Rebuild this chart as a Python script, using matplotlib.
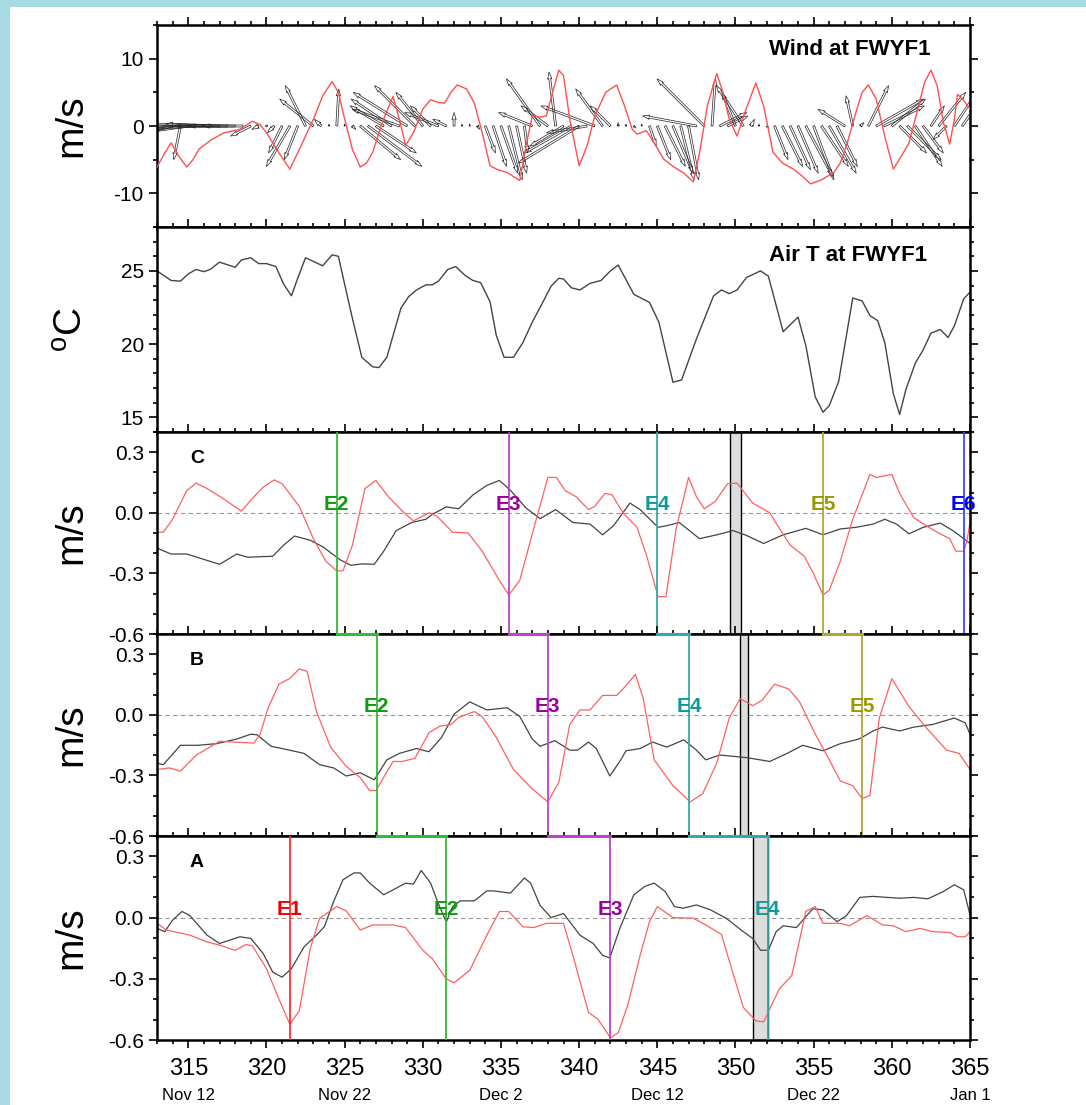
import numpy as np
import matplotlib
matplotlib.use("Agg")
import matplotlib.pyplot as plt
import matplotlib.transforms as mtransforms
from matplotlib.patches import Rectangle
from matplotlib.lines import Line2D
from matplotlib.ticker import MultipleLocator, FixedLocator, FormatStrFormatter

plt.rcParams['font.family'] = ['Liberation Sans', 'DejaVu Sans']
plt.rcParams['mathtext.fontset'] = 'custom'
plt.rcParams['mathtext.rm'] = 'Liberation Sans'
plt.rcParams['axes.unicode_minus'] = False

# ---- wind sticks (half-day steps from day 313) ----
stick_u = [-3, -5, -6, -1, -7, -8, -9, -9, -8, -8, -7, -6, -3, -1, 0, -1,
           -2, -3.5, -2, -3, -5, -1, 0, 0.3, 0, 0.5, 6, 8, 6, -5, -6, -7,
           -8, -6, -4, -3, -5, -2, 0, 0, 0, 0.3, 1.5, 2, 2.5, 2, 1.5, 0.5,
           -5, -5, -4, -1, -5, -7, -9, -6, -8, -4, -3, 0, 0, 0.3, 0, 1,
           2, 3, 3, 2, 1.5, -8, -7, 0.5, 4, 3, -2, -4, 0.5, 0, 0.3, 2,
           3, 3, 3, 4, 3, 4, 4, 3, -4, -1, 0.5, 3, 7, 6, 5, 4,
           5, 4, 3, 2, 4, -2, 4, 5]
stick_v = [-3, -2.5, -1.5, -5, -1, -0.5, 0, 0.3, 0.3, 0, 0, 0, -1.5, -0.5, 0, -1,
           -4, -6, -5, 6, 4, 1, 0.3, 5.5, 0.3, -0.5, -5, -6, -4, 3, 4, 2.5,
           5, 6, 5, 3, 2, 1, 2, 0.3, 0.3, -0.5, -4, -6, -7, -8, -7, -4,
           2, 7, 3, 8, -3, -4, -5.5, -1, 3, 5.5, 3, 0.5, 0.3, -0.3, 0.3, -3,
           -5, -6, -7, -8, -8, 1.5, 7, 7, 2, 1.5, 5, 6, 1, 0.3, -0.3, -5,
           -6, -6.5, -7, -7.5, -8, -6, -7, -6, 2.5, 4.5, 0.5, 6, 4, 3, 4, -4,
           -5, -6, -4, 3, 5, -2, 6, 7]
stick_t = 313.0 + 0.5 * np.arange(len(stick_u))

wind_t = [313.0, 313.5, 313.9, 314.4, 314.9, 315.3, 315.7, 316.5, 317.3, 318.3, 319.1, 319.6,
          320.0, 320.8, 321.5, 322.2, 323.0, 323.6, 324.2, 324.6, 324.9, 325.5, 326.0, 326.4,
          326.8, 327.4, 328.1, 328.5, 328.9, 329.4, 330.0, 330.5, 331.0, 331.4, 331.8, 332.2,
          332.8, 333.3, 333.8, 334.3, 334.8, 335.4, 335.8, 336.2, 336.6, 337.0, 337.5, 337.9,
          338.3, 338.7, 339.0, 339.4, 340.0, 340.5, 341.0, 341.7, 342.4, 342.9, 343.4, 343.7,
          344.3, 344.8, 345.4, 346.0, 346.7, 347.3, 347.7, 348.2, 348.8, 349.2, 349.6, 350.1,
          350.6, 351.3, 351.8, 352.4, 353.0, 353.7, 354.3, 354.8, 355.5, 356.3, 356.7, 357.1,
          357.7, 358.1, 358.5, 359.0, 359.6, 360.1, 360.6, 361.1, 361.6, 362.1, 362.5, 362.9,
          363.3, 363.7, 364.0, 364.2, 364.6, 365.0]
wind_v = [-6.1, -4, -2.5, -4.5, -6.1, -5, -3.4, -2, -1, -0.5, 0.7, 0.2,
          -1, -4, -6.4, -3, 1, 4.5, 6.6, 5, 2, -3.5, -6.1, -5.5,
          -3.9, 0.5, 4.4, 1, -2.9, -1, 2.5, 3.9, 3.5, 3.4, 5, 6.1,
          5.5, 3.4, -1, -5.9, -6.5, -6.9, -7.5, -8.1, -3, 1.5, 1.3, 1.5,
          5, 8.3, 7.5, 1, -5.9, -3, 1.5, 5, 6.1, 3, -0.5, -1.2,
          -0.7, -2.5, -4.9, -6, -7, -8.3, -4, 3, 7.8, 5, 1, -1.5,
          2, 6.4, 3, -3.9, -5.5, -6.4, -7.5, -8.6, -8, -6.9, -5.5, -2.9,
          2, 5, 6.1, 4, -2, -6.4, -4.5, -2.5, 2, 6.5, 8.3, 6,
          0.5, -2.7, 1, 4.7, 3.8, 2.5]

# ---- air temperature ----
airt_t = [313.0, 313.9, 314.5, 315.0, 315.5, 316.0, 316.4, 317.0, 318.0, 318.4, 319.0, 319.5,
          320.0, 320.6, 321.1, 321.6, 322.0, 322.5, 323.1, 323.6, 324.2, 324.6, 325.0, 325.5,
          326.1, 326.8, 327.2, 327.7, 328.6, 329.1, 329.6, 330.2, 330.6, 331.0, 331.6, 332.1,
          332.7, 333.2, 333.7, 334.3, 334.7, 335.2, 335.8, 336.4, 337.0, 337.6, 338.2, 338.7,
          339.0, 339.5, 340.05, 340.7, 341.4, 342.0, 342.5, 343.5, 344.5, 345.1, 346.0, 346.55,
          347.5, 348.6, 349.1, 349.6, 350.1, 350.7, 351.6, 352.1, 353.05, 354.0, 354.5, 355.1,
          355.6, 356.0, 356.6, 357.5, 358.1, 358.6, 359.1, 359.55, 360.1, 360.5, 360.9, 361.5,
          362.0, 362.5, 363.1, 363.6, 364.0, 364.6, 365.0]
airt_v = [25.0, 24.35, 24.3, 24.8, 25.1, 24.95, 25.1, 25.6, 25.25, 25.75, 25.9, 25.5,
          25.5, 25.3, 24.1, 23.3, 24.5, 25.9, 25.6, 25.35, 26.1, 26.0, 24.1, 21.75,
          19.1, 18.45, 18.4, 19.1, 22.45, 23.25, 23.7, 24.05, 24.05, 24.3, 25.1, 25.3,
          24.7, 24.35, 24.2, 22.9, 20.6, 19.1, 19.1, 20.1, 21.5, 22.7, 23.95, 24.5,
          24.45, 23.85, 23.7, 24.15, 24.35, 25.0, 25.4, 23.4, 22.85, 21.5, 17.4, 17.55,
          20.35, 23.3, 23.7, 23.45, 23.7, 24.55, 25.0, 24.65, 20.85, 21.85, 19.9, 16.4,
          15.35, 15.8, 17.45, 23.15, 22.95, 21.95, 21.6, 20.1, 16.6, 15.2, 16.9, 18.7,
          19.6, 20.75, 21.0, 20.45, 21.25, 23.1, 23.55]

# ---- panel C ----
c_red_t = [313.0, 313.4, 314.0, 314.9, 315.5, 316.2, 317.2, 318.4, 319.1, 319.8, 320.5, 321.0,
           322.1, 323.0, 323.8, 324.5, 324.9, 325.5, 326.3, 327.0, 327.8, 328.7, 329.4, 330.4,
           330.9, 331.9, 332.9, 333.8, 334.9, 335.5, 336.2, 337.2, 338.0, 338.55, 339.1, 339.8,
           340.6, 341.0, 341.65, 342.1, 342.8, 343.7, 344.3, 345.05, 345.55, 346.2, 347.0, 347.5,
           348.0, 348.7, 349.5, 350.1, 351.1, 352.2, 352.7, 353.5, 354.4, 355.0, 355.6, 356.0,
           356.7, 357.5, 358.6, 359.0, 360.0, 360.5, 361.4, 362.2, 362.9, 363.7, 364.1, 364.6,
           364.8, 365.0]
c_red_v = [-0.096, -0.096, -0.032, 0.11, 0.147, 0.12, 0.072, 0.008, 0.072, 0.127, 0.163, 0.144,
           0.032, -0.128, -0.24, -0.287, -0.287, -0.16, 0.12, 0.16, 0.08, 0.008, -0.04, 0.0,
           -0.016, -0.096, -0.1, -0.19, -0.335, -0.407, -0.335, -0.048, 0.175, 0.175, 0.11, 0.08,
           0.016, 0.032, 0.096, 0.09, 0.0, -0.072, -0.208, -0.415, -0.415, -0.08, 0.175, 0.08,
           0.02, 0.056, 0.144, 0.147, 0.048, 0.0, -0.064, -0.16, -0.215, -0.303, -0.407, -0.383,
           -0.24, -0.032, 0.19, 0.175, 0.19, 0.096, -0.024, -0.064, -0.096, -0.128, -0.19, -0.19,
           -0.14, -0.048]
c_blk_t = [313.0, 313.9, 314.9, 317.0, 318.1, 318.8, 320.4, 321.1, 321.8, 322.8, 323.6, 324.7,
           325.4, 326.1, 326.9, 327.5, 328.3, 329.3, 330.2, 330.6, 331.5, 332.3, 333.2, 334.1,
           334.9, 335.6, 336.6, 337.5, 338.5, 339.6, 340.7, 341.5, 342.2, 343.25, 343.9, 345.05,
           345.6, 346.4, 347.7, 348.8, 349.85, 350.7, 351.8, 353.05, 354.5, 355.6, 356.7, 357.7,
           358.8, 359.55, 360.3, 361.1, 362.0, 363.1, 363.9, 364.6, 365.0]
c_blk_v = [-0.175, -0.204, -0.204, -0.255, -0.204, -0.22, -0.215, -0.16, -0.115, -0.136, -0.168, -0.232,
           -0.26, -0.253, -0.255, -0.19, -0.088, -0.048, -0.032, -0.008, 0.029, 0.02, 0.088, 0.136,
           0.16, 0.112, 0.024, -0.029, 0.016, -0.048, -0.056, -0.109, -0.064, 0.048, 0.016, -0.072,
           -0.064, -0.048, -0.128, -0.109, -0.088, -0.112, -0.152, -0.109, -0.077, -0.109, -0.08, -0.072,
           -0.056, -0.032, -0.056, -0.104, -0.072, -0.051, -0.088, -0.128, -0.152]

# ---- panel B ----
b_red_t = [313.0, 313.8, 314.5, 315.5, 317.0, 317.9, 319.2, 319.6, 320.1, 320.8, 321.5, 322.1,
           322.6, 323.2, 324.1, 325.1, 326.0, 326.6, 327.0, 328.1, 328.7, 329.5, 330.4, 331.1,
           331.8, 332.3, 333.3, 333.8, 334.7, 335.8, 337.0, 338.0, 338.7, 339.4, 340.05, 340.7,
           341.5, 342.4, 342.9, 343.6, 344.1, 344.8, 346.0, 347.1, 347.9, 348.8, 349.6, 350.3,
           351.1, 351.7, 352.5, 353.4, 354.1, 355.0, 356.0, 356.7, 357.5, 358.1, 358.6, 359.2,
           360.0, 361.1, 362.2, 363.5, 364.3, 365.0]
b_red_v = [-0.271, -0.263, -0.279, -0.2, -0.131, -0.135, -0.14, -0.095, 0.032, 0.152, 0.18, 0.227,
           0.215, 0.016, -0.16, -0.255, -0.311, -0.375, -0.375, -0.231, -0.231, -0.215, -0.088, -0.056,
           -0.048, -0.013, 0.016, -0.008, -0.112, -0.271, -0.367, -0.431, -0.335, -0.048, 0.024, 0.024,
           0.096, 0.096, 0.136, 0.2, 0.08, -0.223, -0.351, -0.431, -0.391, -0.239, -0.016, 0.08,
           0.045, 0.072, 0.152, 0.128, 0.064, -0.08, -0.223, -0.327, -0.351, -0.415, -0.399, -0.016,
           0.179, 0.04, -0.064, -0.175, -0.191, -0.271]
b_blk_t = [313.0, 313.4, 314.5, 315.6, 316.8, 318.1, 319.0, 319.4, 320.3, 321.3, 322.4, 323.4,
           324.3, 325.1, 326.0, 326.9, 327.7, 328.5, 329.6, 330.4, 331.2, 332.0, 333.0, 334.1,
           335.4, 336.2, 337.0, 337.5, 338.45, 339.4, 339.9, 340.6, 341.1, 341.96, 342.6, 343.0,
           343.9, 344.7, 345.6, 346.7, 347.5, 348.1, 349.0, 350.7, 352.2, 353.3, 354.3, 355.6,
           356.7, 357.9, 358.8, 359.4, 360.5, 361.4, 362.6, 364.0, 364.7, 365.0]
b_blk_v = [-0.239, -0.247, -0.151, -0.151, -0.143, -0.12, -0.096, -0.099, -0.156, -0.172, -0.191, -0.247,
           -0.263, -0.303, -0.287, -0.322, -0.223, -0.191, -0.167, -0.183, -0.112, 0.003, 0.064, 0.024,
           0.035, -0.008, -0.12, -0.156, -0.128, -0.175, -0.175, -0.135, -0.167, -0.303, -0.231, -0.178,
           -0.167, -0.135, -0.16, -0.124, -0.175, -0.223, -0.199, -0.212, -0.231, -0.191, -0.151, -0.178,
           -0.143, -0.12, -0.08, -0.061, -0.08, -0.061, -0.048, -0.016, -0.04, -0.096]

# ---- panel A ----
a_red_t = [313.0, 313.6, 315.1, 316.2, 317.0, 318.0, 318.7, 319.1, 320.0, 320.8, 321.5, 322.1,
           322.8, 323.4, 324.5, 325.1, 326.0, 326.8, 328.1, 328.9, 330.0, 330.6, 331.5, 332.0,
           333.0, 334.1, 334.9, 335.5, 336.4, 337.1, 337.9, 339.0, 339.6, 340.6, 341.2, 342.0,
           342.5, 343.1, 343.9, 344.5, 345.0, 346.0, 347.3, 348.1, 349.1, 349.75, 350.5, 351.3,
           351.8, 352.8, 353.6, 354.5, 355.1, 355.6, 356.7, 357.3, 358.4, 359.4, 360.1, 360.9,
           361.8, 362.6, 363.7, 364.2, 364.7, 365.0]
a_red_v = [-0.028, -0.061, -0.086, -0.119, -0.135, -0.16, -0.132, -0.138, -0.25, -0.4, -0.523, -0.457,
           -0.152, -0.003, 0.054, 0.033, -0.061, -0.036, -0.036, -0.049, -0.16, -0.201, -0.3, -0.32,
           -0.259, -0.086, 0.03, 0.03, -0.045, -0.049, -0.028, -0.028, -0.185, -0.465, -0.498, -0.589,
           -0.564, -0.432, -0.185, -0.02, 0.054, 0.0, -0.003, -0.036, -0.082, -0.25, -0.44, -0.506,
           -0.511, -0.35, -0.284, 0.03, 0.054, -0.028, -0.028, -0.04, 0.01, -0.036, -0.04, -0.069,
           -0.053, -0.069, -0.073, -0.094, -0.094, -0.069]
a_blk_t = [313.0, 313.5, 314.0, 314.6, 315.1, 316.2, 317.0, 318.3, 319.0, 319.8, 320.4, 321.0,
           321.6, 322.4, 323.2, 323.7, 324.3, 324.9, 325.6, 326.0, 326.6, 327.5, 328.1, 328.9,
           329.4, 329.9, 330.5, 330.9, 331.5, 331.9, 332.4, 333.3, 334.1, 334.5, 335.6, 336.5,
           336.9, 337.5, 338.2, 339.0, 340.05, 340.9, 341.5, 341.96, 342.6, 343.5, 344.2, 344.8,
           345.5, 346.1, 346.65, 347.5, 348.4, 349.4, 350.5, 351.1, 351.6, 352.1, 352.6, 353.05,
           353.9, 354.5, 354.95, 355.6, 356.5, 357.1, 357.95, 358.8, 359.7, 360.5, 361.4, 362.3,
           363.3, 364.0, 364.6, 365.0]
a_blk_v = [-0.053, -0.069, -0.012, 0.03, 0.01, -0.086, -0.127, -0.094, -0.102, -0.177, -0.267, -0.292,
           -0.25, -0.144, -0.086, -0.045, 0.079, 0.186, 0.219, 0.219, 0.169, 0.112, 0.136, 0.169,
           0.164, 0.231, 0.169, 0.087, -0.023, 0.054, 0.082, 0.082, 0.131, 0.131, 0.12, 0.194,
           0.169, 0.06, 0.0, 0.02, -0.086, -0.127, -0.185, -0.198, -0.053, 0.112, 0.153, 0.169,
           0.128, 0.054, 0.046, 0.062, 0.038, -0.003, -0.069, -0.102, -0.16, -0.16, -0.069, -0.04,
           -0.049, 0.005, 0.043, 0.038, -0.02, 0.01, 0.099, 0.104, 0.099, 0.095, 0.099, 0.092,
           0.128, 0.161, 0.136, 0.013]

# ---- events ----
c_events = ["E2", "E3", "E4", "E5", "E6"]
c_days = [324.5, 335.5, 345.0, 355.6, 364.6]
b_events = ["E2", "E3", "E4", "E5"]
b_days = [327.05, 338.0, 347.05, 358.1]
a_events = ["E1", "E2", "E3", "E4"]
a_days = [321.5, 331.5, 342.0, 352.05]
c_span = (349.65, 350.35)
b_span = (350.3, 350.8)
a_span = (351.1, 352.05)

date_days = [315, 325, 335, 345, 355, 365]
date_labels = ["Nov 12", "Nov 22", "Dec 2", "Dec 12", "Dec 22", "Jan 1"]

line_col = {"E1": "#ff3030", "E2": "#33bb33", "E3": "#bb44cc", "E4": "#33aaaa",
            "E5": "#aaaa33", "E6": "#4444ff"}
text_col = {"E1": "#ee0000", "E2": "#119911", "E3": "#990099", "E4": "#119999",
            "E5": "#999900", "E6": "#0000ee"}
RED = "#ff6060"
BLK = "#444444"

W, H = 1086, 1105
fig = plt.figure(figsize=(W / 100, H / 100), dpi=100)
fig.patch.set_facecolor("#a6dbe4")
fig.add_artist(Rectangle((10 / W, 0), 1, 1 - 7 / H, transform=fig.transFigure,
                         facecolor="white", edgecolor="none", zorder=-10))


def panel(top_px, bot_px):
    return fig.add_axes([157 / W, 1 - bot_px / H, 813 / W, (bot_px - top_px) / H])


ax_w = panel(25, 227)
ax_t = panel(227, 432)
ax_c = panel(432, 634)
ax_b = panel(634, 836)
ax_a = panel(836, 1040)
axes = [ax_w, ax_t, ax_c, ax_b, ax_a]

for ax in axes:
    ax.set_xlim(313, 365)
    ax.xaxis.set_major_locator(MultipleLocator(5))
    ax.xaxis.set_minor_locator(MultipleLocator(1))
    ax.tick_params(which="both", direction="out", top=True, right=True, width=1.2,
                   labelsize=15, labelbottom=False)
    ax.tick_params(which="major", length=6)
    ax.tick_params(which="minor", length=3)
    for s in ax.spines.values():
        s.set_linewidth(1.8)

ax_a.tick_params(axis="x", labelbottom=True, labelsize=17, pad=7)
for d, lab in zip(date_days, date_labels):
    ax_a.annotate(lab, xy=(d, 0), xycoords=("data", "axes fraction"), xytext=(0, -40),
                  textcoords="offset points", ha="center", va="center", fontsize=12)

# wind panel
ax_w.set_ylim(-15, 15)
ax_w.yaxis.set_major_locator(FixedLocator([-10, 0, 10]))
ax_w.yaxis.set_minor_locator(MultipleLocator(5))
ax_w.quiver(stick_t, np.zeros(len(stick_t)), stick_u, stick_v, angles="uv",
            scale_units="y", scale=1, width=0.0024, headwidth=2.2, headlength=3.6,
            headaxislength=3.2, facecolor="none", edgecolor="#222222", linewidth=0.5,
            zorder=2)
ax_w.plot(wind_t, wind_v, color="#ff5050", lw=1.0, zorder=3)
ax_w.text(0.951, 0.88, "Wind at FWYF1", transform=ax_w.transAxes, ha="right",
          va="center", fontsize=16, fontweight="bold")

# air temperature panel
ax_t.set_ylim(14, 28)
ax_t.yaxis.set_major_locator(MultipleLocator(5))
ax_t.yaxis.set_minor_locator(MultipleLocator(1))
ax_t.plot(airt_t, airt_v, color=BLK, lw=1.0)
ax_t.text(0.947, 0.863, "Air T at FWYF1", transform=ax_t.transAxes, ha="right",
          va="center", fontsize=16, fontweight="bold")

# current panels
panels = [
    (ax_c, "C", c_red_t, c_red_v, c_blk_t, c_blk_v, c_events, c_days, c_span),
    (ax_b, "B", b_red_t, b_red_v, b_blk_t, b_blk_v, b_events, b_days, b_span),
    (ax_a, "A", a_red_t, a_red_v, a_blk_t, a_blk_v, a_events, a_days, a_span),
]
for ax, letter, rt, rv, kt, kv, evs, days, span in panels:
    ax.set_ylim(-0.6, 0.4)
    ax.yaxis.set_major_locator(FixedLocator([-0.6, -0.3, 0.0, 0.3]))
    ax.yaxis.set_minor_locator(MultipleLocator(0.1))
    ax.yaxis.set_major_formatter(FormatStrFormatter("%.1f"))
    ax.axhline(0, color="#999999", lw=0.8, ls=(0, (4, 3)), zorder=1)
    ax.axvspan(span[0], span[1], facecolor="#dddddd", edgecolor="black", lw=1.0, zorder=1)
    ax.plot(kt, kv, color=BLK, lw=0.9, zorder=2)
    ax.plot(rt, rv, color=RED, lw=0.9, zorder=2)
    for e, d in zip(evs, days):
        ax.axvline(d, color=line_col[e], lw=1.3, zorder=3)
        ax.text(d, 0.04, e, color=text_col[e], fontsize=15, fontweight="bold",
                ha="center", va="center", zorder=4)
    ax.text(0.049, 0.87, letter, transform=ax.transAxes, ha="center", va="center",
            fontsize=14, fontweight="bold")

# lag connectors drawn along the shared panel edges
for upper, up_ev, up_days, low_ev, low_days in [
        (ax_c, c_events, c_days, b_events, b_days),
        (ax_b, b_events, b_days, a_events, a_days)]:
    tr = mtransforms.blended_transform_factory(upper.transData, upper.transAxes)
    low = dict(zip(low_ev, low_days))
    for e, d in zip(up_ev, up_days):
        if e in low:
            fig.add_artist(Line2D([d, low[e]], [0, 0], transform=tr,
                                  color=line_col[e], lw=2.2, zorder=5))

# y labels
for ax, lab in [(ax_w, "m/s"), (ax_t, "$^{\\mathrm{o}}$C"), (ax_c, "m/s"),
                (ax_b, "m/s"), (ax_a, "m/s")]:
    ax.text(-0.105, 0.5, lab, transform=ax.transAxes, rotation=90, ha="center",
            va="center", fontsize=28)

fig.savefig("out.png", dpi=100, facecolor=fig.get_facecolor())
